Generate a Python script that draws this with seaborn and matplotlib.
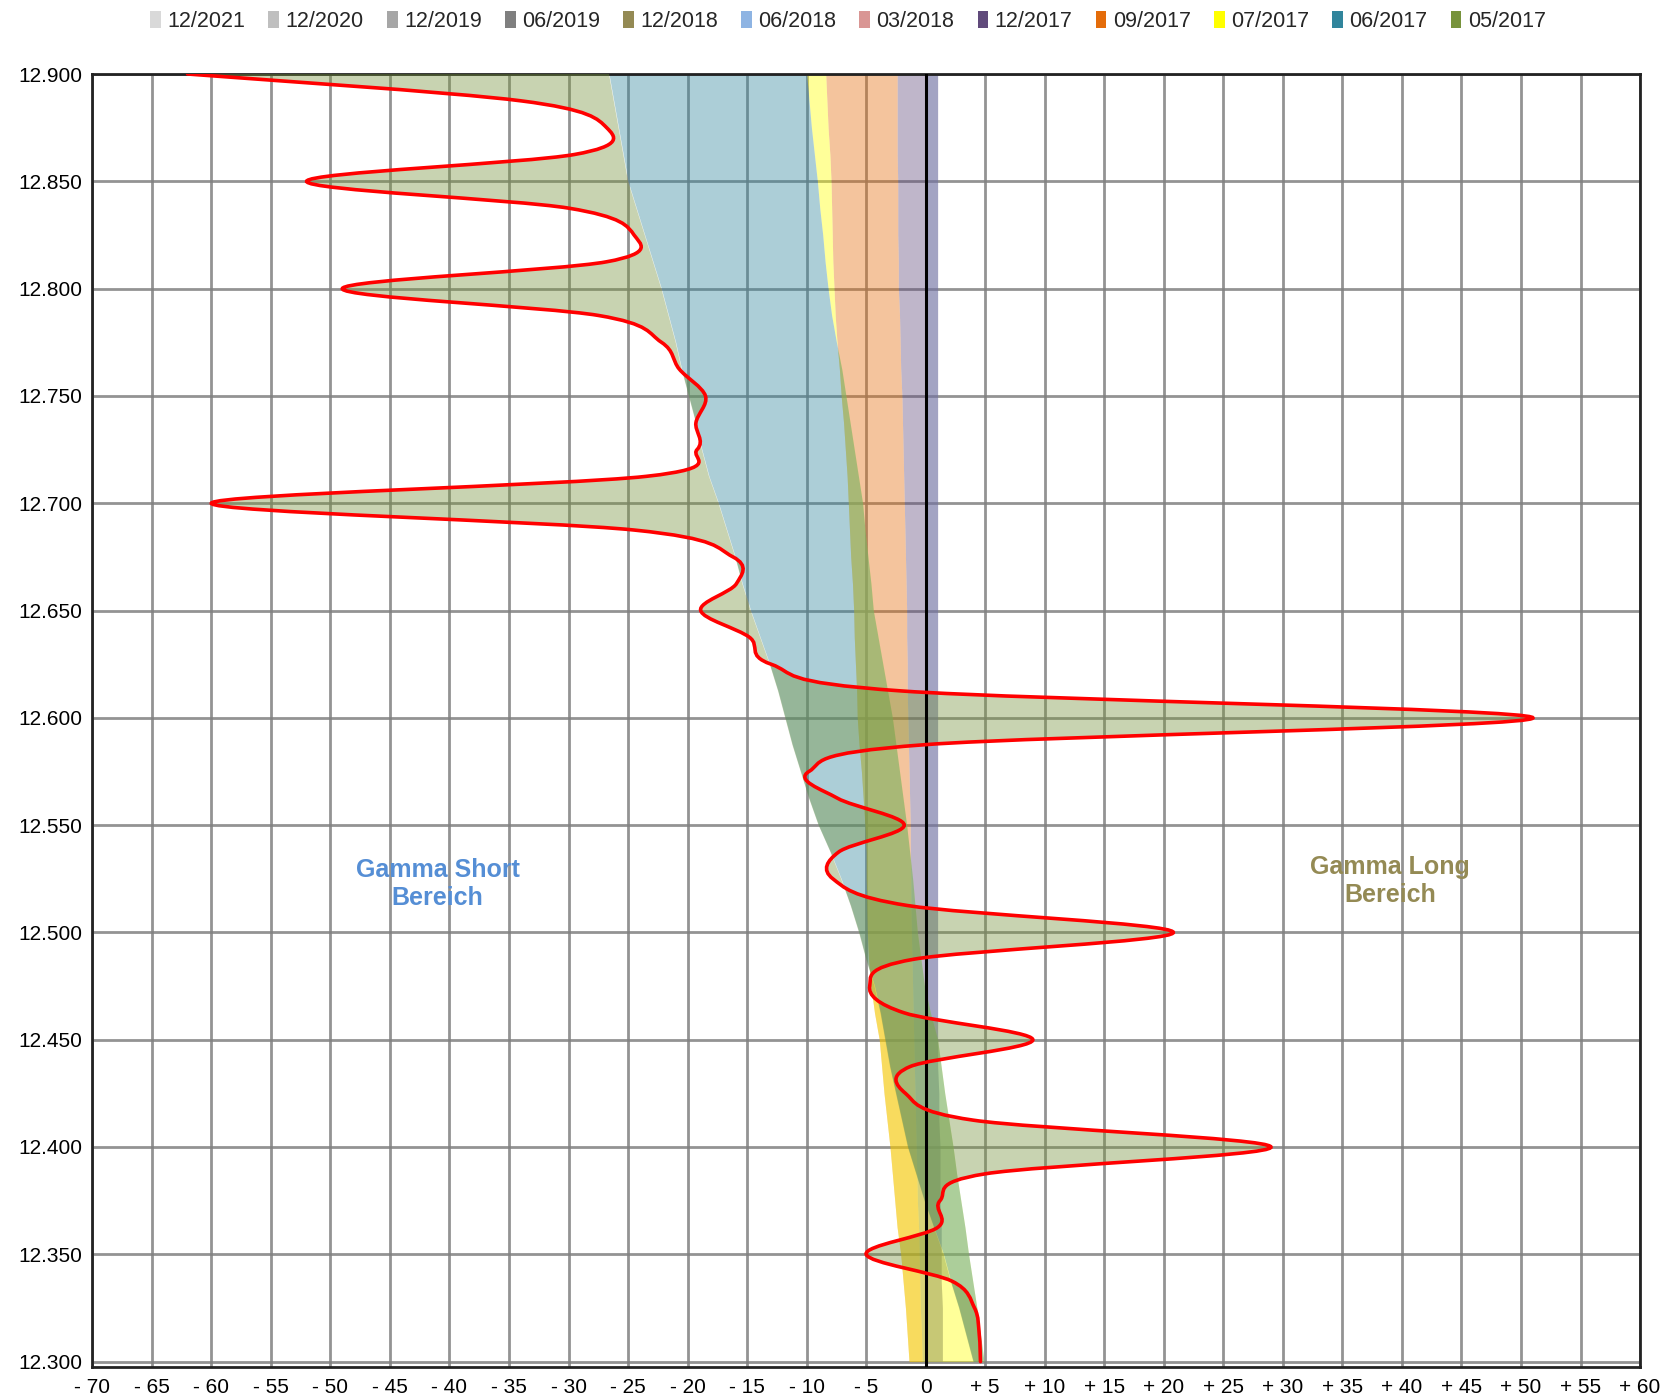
import numpy as np
import matplotlib
matplotlib.use("Agg")
import matplotlib.pyplot as plt
from matplotlib.path import Path
from matplotlib.patches import PathPatch, Patch
import seaborn as sns

sns.set_theme(style="white")
plt.rcParams["font.family"] = ["Liberation Sans", "DejaVu Sans"]

# DATA
levels = [12.900, 12.8875, 12.875, 12.8625, 12.850, 12.8375, 12.825, 12.8125,
          12.800, 12.7875, 12.775, 12.7625, 12.750, 12.7375, 12.725, 12.7125,
          12.700, 12.6875, 12.675, 12.6625, 12.650, 12.6375, 12.625, 12.6125,
          12.600, 12.5875, 12.575, 12.5625, 12.550, 12.5375, 12.525, 12.5125,
          12.500, 12.4875, 12.475, 12.4625, 12.450, 12.4375, 12.425, 12.4125,
          12.400, 12.3875, 12.375, 12.3625, 12.350, 12.3375, 12.325, 12.3125,
          12.300]

# total gamma (red line)
gamma_total = [-62, -34, -26.8, -29.5, -52, -30, -24.5, -26.8,
               -49, -27.5, -22.2, -20.7, -18.5, -19.3, -19.2, -23.5,
               -60, -24.5, -16.2, -15.9, -18.9, -14.8, -13, -2,
               51, 0, -9.8, -7.4, -1.8, -7.3, -7.8, -1.5,
               20.8, -1, -4.7, -1.8, 9, -1.3, -1.7, 4,
               29, 5, 1.2, 1.0, -5, 2.2, 4.1, 4.5,
               4.6]

# stacked edges reached after each series
edge_0618 = [1.0, 1.0, 1.0, 1.0, 1.0, 1.0, 1.0, 1.0,
             1.0, 1.0, 1.0, 1.0, 1.0, 1.0, 1.0, 1.0,
             1.0, 1.0, 1.0, 1.0, 1.0, 1.0, 1.0, 1.0,
             1.0, 1.0, 1.0, 1.0, 1.0, 1.0, 1.0, 1.0,
             1.0, 1.0, 1.0, 1.0, 1.0, 1.0, 1.1, 1.1,
             1.2, 1.2, 1.2, 1.3, 1.3, 1.3, 1.4, 1.4,
             1.4]
edge_1217 = [-2.4, -2.4, -2.4, -2.4, -2.35, -2.35, -2.35, -2.3,
             -2.3, -2.2, -2.15, -2.1, -2.0, -1.95, -1.9, -1.85,
             -1.8, -1.75, -1.7, -1.65, -1.6, -1.6, -1.55, -1.55,
             -1.5, -1.45, -1.4, -1.35, -1.3, -1.3, -1.25, -1.25,
             -1.2, -1.15, -1.1, -1.05, -1.0, -0.95, -0.9, -0.85,
             -0.8, -0.75, -0.7, -0.6, -0.55, -0.5, -0.45, -0.35,
             -0.3]
edge_0917 = [-8.4, -8.3, -8.2, -8.05, -7.95, -7.9, -7.85, -7.8,
             -7.7, -7.6, -7.45, -7.25, -7.1, -6.9, -6.75, -6.6,
             -6.5, -6.4, -6.3, -6.15, -6.05, -6.0, -5.9, -5.8,
             -5.75, -5.6, -5.4, -5.25, -5.1, -5.0, -5.0, -4.95,
             -4.9, -4.8, -4.6, -4.3, -3.9, -3.7, -3.5, -3.25,
             -3.0, -2.8, -2.6, -2.4, -2.1, -1.9, -1.7, -1.55,
             -1.4]
edge_0717 = [-10.0, -9.8, -9.6, -9.35, -9.1, -8.9, -8.65, -8.45,
             -8.2, -7.9, -7.5, -7.05, -6.7, -6.35, -6.0, -5.65,
             -5.3, -5.1, -4.85, -4.6, -4.4, -4.0, -3.6, -3.2,
             -2.8, -2.5, -2.2, -1.9, -1.6, -1.35, -1.1, -0.9,
             -0.7, -0.4, -0.1, 0.4, 1.0, 1.3, 1.6, 1.95,
             2.3, 2.6, 2.95, 3.3, 3.6, 3.95, 4.3, 4.6,
             4.9]
edge_0617 = [-26.6, -26.2, -25.8, -25.4, -25.0, -24.3, -23.6, -22.9,
             -22.2, -21.6, -21.0, -20.5, -19.9, -19.3, -18.8, -18.2,
             -17.4, -16.7, -16.0, -15.4, -14.7, -13.9, -13.1, -12.4,
             -11.8, -11.2, -10.5, -9.8, -9.0, -8.0, -7.1, -6.3,
             -5.6, -5.0, -4.3, -3.8, -3.4, -3.0, -2.5, -2.0,
             -1.5, -0.8, -0.1, 0.7, 1.5, 2.1, 2.8, 3.4,
             4.0]

series_labels = ["12/2021", "12/2020", "12/2019", "06/2019", "12/2018", "06/2018",
                 "03/2018", "12/2017", "09/2017", "07/2017", "06/2017", "05/2017"]
series_colors = ["#D9D9D9", "#BFBFBF", "#A6A6A6", "#7F7F7F", "#948A54", "#8EB4E3",
                 "#D99694", "#604A7B", "#E46C0A", "#FFFF00", "#31859C", "#77933C"]
col = dict(zip(series_labels, series_colors))


def smooth_path(xs, ys):
    # smoothed line like the spreadsheet one (catmull-rom as bezier)
    pts = np.column_stack([xs, ys]).astype(float)
    n = len(pts)
    verts = [tuple(pts[0])]
    codes = [Path.MOVETO]
    for i in range(n - 1):
        p0 = pts[max(i - 1, 0)]
        p1 = pts[i]
        p2 = pts[i + 1]
        p3 = pts[min(i + 2, n - 1)]
        verts += [tuple(p1 + (p2 - p0) / 6), tuple(p2 - (p3 - p1) / 6), tuple(p2)]
        codes += [Path.CURVE4] * 3
    return verts, codes


# FIGURE
fig = plt.figure(figsize=(16.63, 13.99), dpi=100)
ax = fig.add_axes([0.0555, 0.0229, 0.9307, 0.9242])

y = np.array(levels)
zero = np.zeros(len(levels))
bands = [("06/2018", zero, edge_0618),
         ("12/2017", edge_0618, edge_1217),
         ("09/2017", edge_1217, edge_0917),
         ("07/2017", edge_0917, edge_0717),
         ("06/2017", edge_0717, edge_0617)]
for name, a, b in bands:
    ax.fill_betweenx(y, a, b, color=col[name], alpha=0.4, lw=0, zorder=2)

# last series: between 06/2017 edge and the total
v, c = smooth_path(gamma_total, levels)
back = [tuple(p) for p in np.column_stack([edge_0617, levels])[::-1]]
fill_verts = v + back + [v[0]]
fill_codes = c + [Path.LINETO] * len(back) + [Path.CLOSEPOLY]
ax.add_patch(PathPatch(Path(fill_verts, fill_codes), facecolor=col["05/2017"],
                       alpha=0.4, lw=0, zorder=3))

ax.axvline(0, color="black", lw=2.2, zorder=4)
ax.add_patch(PathPatch(Path(v, c), facecolor="none", edgecolor="#FF0000",
                       lw=2.6, zorder=5, capstyle="round"))

# AXES
ax.set_xlim(-70, 60)
ax.set_ylim(12.2975, 12.900)
xt = list(range(-70, 61, 5))
ax.set_xticks(xt)
ax.set_xticklabels([("- %d" % -t) if t < 0 else ("0" if t == 0 else "+ %d" % t) for t in xt])
yt = levels[::4]
ax.set_yticks(yt)
ax.set_yticklabels(["%.3f" % t for t in yt])
ax.tick_params(axis="both", length=0, labelsize=15, colors="black")
ax.tick_params(axis="x", pad=8)
ax.tick_params(axis="y", pad=7)
ax.grid(True, color="#808080", lw=2.0, alpha=0.85)
ax.set_axisbelow(True)
for s in ax.spines.values():
    s.set_color("#222222")
    s.set_linewidth(2)

ax.text(-41.0, 12.5225, "Gamma Short\nBereich", ha="center", va="center",
        color="#558ED5", fontsize=18, fontweight="bold")
ax.text(39.0, 12.524, "Gamma Long\nBereich", ha="center", va="center",
        color="#948A54", fontsize=18, fontweight="bold")

handles = [Patch(facecolor=col[s], edgecolor="none") for s in series_labels]
fig.legend(handles, series_labels, loc="upper center", bbox_to_anchor=(0.51, 1.006),
           ncol=12, frameon=False, fontsize=15.5, handlelength=0.5, handleheight=0.8,
           handletextpad=0.3, columnspacing=1.07)

fig.savefig("out.png", dpi=100)
